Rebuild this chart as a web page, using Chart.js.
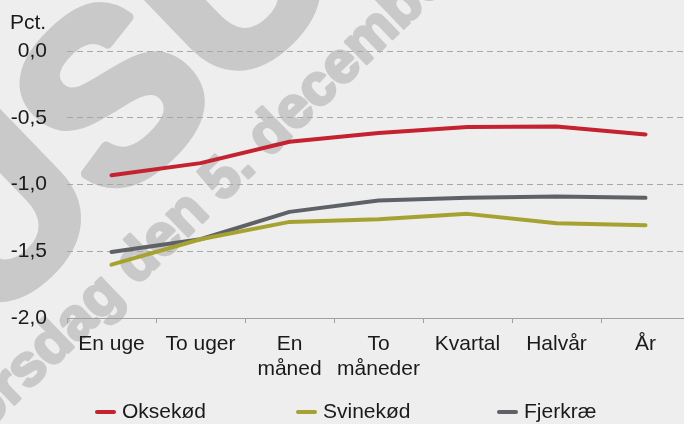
<!DOCTYPE html>
<html>
<head>
<meta charset="utf-8">
<script src="https://cdn.jsdelivr.net/npm/chart.js@4"></script>
<style>
  html, body { margin: 0; padding: 0; background: #eeeeee; overflow: hidden; }
  #wrap { width: 690px; height: 424px; }
</style>
</head>
<body>
<div id="wrap"><canvas id="chart"></canvas></div>
<script>
// Data
const categories = ['En uge', 'To uger', ['En', 'måned'], ['To', 'måneder'], 'Kvartal', 'Halvår', 'År'];
const seriesNames = ['Oksekød', 'Svinekød', 'Fjerkræ'];
const oksekod = [-0.93, -0.84, -0.68, -0.615, -0.57, -0.565, -0.625];
const svinekod = [-1.60, -1.41, -1.28, -1.26, -1.22, -1.29, -1.305];
const fjerkrae = [-1.505, -1.41, -1.205, -1.12, -1.10, -1.09, -1.10];
const yMin = -2.0;
const yMax = 0.0;
const yStep = 0.5;
const unitLabel = 'Pct.';
const watermark = 'torsdag den 5. december';
const bigMark = 'USU';

const colors = ['#c42230', '#a6a232', '#5e6266'];
const FONT = '"Liberation Sans", Arial, sans-serif';

const backgroundPlugin = {
    id: 'backdrop',
    beforeDraw(chart) {
        const ctx = chart.ctx;
        ctx.save();
        ctx.fillStyle = '#eeeeee';
        ctx.fillRect(0, 0, chart.width, chart.height);
        // faint watermark behind the plot (stroked a bit to make it heavier)
        ctx.fillStyle = '#c9c9c9';
        ctx.strokeStyle = '#c9c9c9';
        ctx.lineJoin = 'round';
        ctx.textBaseline = 'alphabetic';
        ctx.save();
        ctx.translate(-14, 330);
        ctx.rotate(-44 * Math.PI / 180);
        ctx.font = 'bold 240px ' + FONT;
        ctx.lineWidth = 10;
        ctx.fillText(bigMark, 0, 0);
        ctx.strokeText(bigMark, 0, 0);
        ctx.restore();

        ctx.translate(-28, 445);
        ctx.rotate(-44 * Math.PI / 180);
        ctx.font = 'bold 58px ' + FONT;
        ctx.lineWidth = 3;
        ctx.fillText(watermark, 0, 0);
        ctx.strokeText(watermark, 0, 0);
        ctx.restore();
    },
    afterDraw(chart) {
        const ctx = chart.ctx;
        ctx.save();
        ctx.font = '21px ' + FONT;
        ctx.fillStyle = '#1a1a1a';
        ctx.textBaseline = 'alphabetic';
        ctx.fillText(unitLabel, 10, 29);

        // legend
        ctx.textBaseline = 'middle';
        chart.data.datasets.forEach((ds, i) => {
            const x0 = 97 + i * 201;
            const y = 412;
            ctx.strokeStyle = ds.borderColor;
            ctx.lineWidth = 4;
            ctx.lineCap = 'round';
            ctx.beginPath();
            ctx.moveTo(x0, y);
            ctx.lineTo(x0 + 17, y);
            ctx.stroke();
            ctx.fillStyle = '#1a1a1a';
            ctx.fillText(ds.label, x0 + 25, y);
        });
        ctx.restore();
    }
};

const datasets = [oksekod, svinekod, fjerkrae].map((values, i) => ({
    label: seriesNames[i],
    data: values,
    borderColor: colors[i],
    backgroundColor: colors[i],
    borderWidth: 4,
    borderCapStyle: 'round',
    borderJoinStyle: 'round',
    pointRadius: 0,
    tension: 0,
    fill: false
}));

new Chart(document.getElementById('chart'), {
    type: 'line',
    data: { labels: categories, datasets: datasets },
    plugins: [backgroundPlugin],
    options: {
        responsive: true,
        maintainAspectRatio: false,
        animation: false,
        layout: { padding: { top: 51, left: 0, right: 0, bottom: 0 } },
        plugins: {
            legend: { display: false },
            tooltip: { enabled: false }
        },
        scales: {
            x: {
                offset: true,
                grid: {
                    offset: true,
                    drawOnChartArea: false,
                    drawTicks: true,
                    tickLength: 5,
                    color: '#a0a0a0'
                },
                border: { display: true, color: '#a0a0a0', width: 1 },
                ticks: {
                    color: '#1a1a1a',
                    padding: 9,
                    maxRotation: 0,
                    autoSkip: false,
                    font: { family: FONT, size: 21, lineHeight: 1.17 }
                },
                afterFit(scale) { scale.height = 106; }
            },
            y: {
                min: yMin,
                max: yMax,
                ticks: {
                    stepSize: yStep,
                    color: '#1a1a1a',
                    padding: 20,
                    font: { family: FONT, size: 21 },
                    callback: v => v.toFixed(1).replace('.', ',')
                },
                grid: {
                    drawTicks: false,
                    color: ctx => (ctx.tick && ctx.tick.value === yMin) ? 'rgba(0,0,0,0)' : '#a8a8a8',
                    lineWidth: 1
                },
                border: { display: false, dash: [6, 4] },
                afterFit(scale) { scale.width = 67; }
            }
        }
    }
});
</script>
</body>
</html>
